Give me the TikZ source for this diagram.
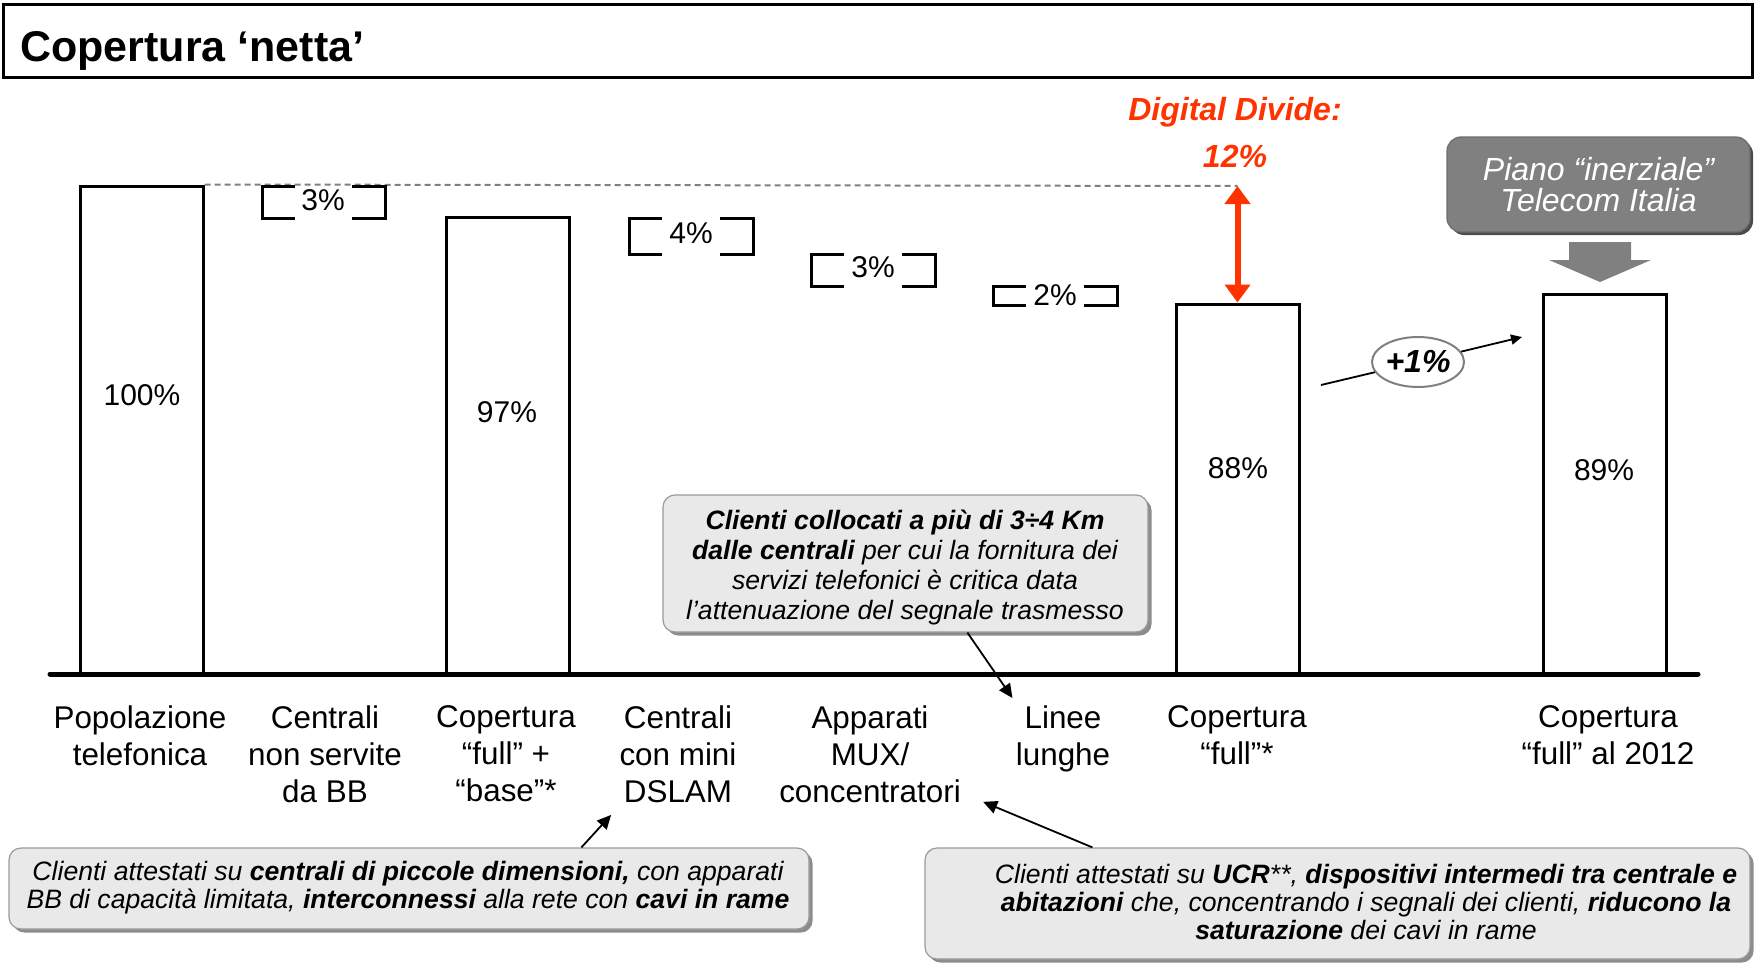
\documentclass[tikz,border=0pt]{standalone}
\usepackage{fontspec}
\setmainfont{Liberation Sans}
\usetikzlibrary{arrows.meta,calc,shapes.geometric,shadows}
\definecolor{ddred}{HTML}{FF3300}
\definecolor{callfill}{HTML}{E9E9E9}
\definecolor{callline}{HTML}{9A9A9A}
\definecolor{pianofill}{HTML}{808080}
\definecolor{dashgray}{HTML}{808080}
\newcommand\stepbrk[4]{%
  \draw[brk] (#1+33,#3) -- (#1,#3) -- (#1,#4) -- (#1+33,#4);
  \draw[brk] (#2-33,#3) -- (#2,#3) -- (#2,#4) -- (#2-33,#4);}
\begin{document}
\begin{tikzpicture}[x=0.5pt,y=-0.5pt,
  bar/.style={draw, line width=1.5pt, fill=white, inner sep=0pt},
  val/.style={font=\fontsize{15}{18}\selectfont, inner sep=0pt},
  cat/.style={font=\fontsize{15.7}{18.5}\selectfont, align=center, inner sep=0pt, anchor=north},
  brk/.style={line width=1.5pt},
  callout/.style={draw=callline, line width=0.6pt, fill=callfill, rounded corners=6pt,
    drop shadow={shadow xshift=1.8pt, shadow yshift=-1.8pt, fill=black!45, opacity=1}},
  calltext/.style={font=\fontsize{13.3}{14}\selectfont\itshape, align=center, inner sep=0pt},
  conn/.style={-{Triangle[length=7pt,width=6.5pt]}, line width=0.9pt},
  ddtext/.style={font=\fontsize{16}{19}\selectfont\bfseries\itshape, text=ddred, inner sep=0pt},
]
\useasboundingbox (0,0) rectangle (1755,963);
% title
\node[draw, line width=1.5pt, minimum width=874.5pt, minimum height=36.5pt, inner sep=0pt] (titlebox) at (877.5,41.5) {};
\node[anchor=base west, font=\fontsize{21.5}{25}\selectfont\bfseries, inner sep=0pt] (title) at (20,62) {Copertura ‘netta’};
% bars
\node[bar, minimum width=61.5pt, minimum height=244pt] (b1) at (141.5,430) {};
\node[bar, minimum width=61.5pt, minimum height=228.5pt] (b3) at (507.5,445.5) {};
\node[bar, minimum width=61.5pt, minimum height=185pt] (b7) at (1237.5,489) {};
\node[bar, minimum width=61.5pt, minimum height=190pt] (b8) at (1604.5,484) {};
\node[val] (v1) at (142,395) {100\%};
\node[val] (v3) at (507,412) {97\%};
\node[val] (v7) at (1238,468) {88\%};
\node[val] (v8) at (1604,470) {89\%};
% dashed reference and digital divide arrow
\coordinate (ddtop) at (1237.5,186);
\draw[draw=dashgray, line width=1pt, dash pattern=on 3pt off 2pt] (b1.north east) -- (ddtop);
\draw[draw=ddred, line width=3pt, {Triangle[length=9pt,width=12.5pt]}-{Triangle[length=9pt,width=12.5pt]}] (ddtop) -- (b7.north);
\node[ddtext] (dd1) at (1235,112) {Digital Divide:};
\node[ddtext] (dd2) at (1235,156) {12\%};
% steps
\stepbrk{262}{385}{186}{218}
\stepbrk{629}{753}{218}{254}
\stepbrk{811}{935}{254}{286}
\stepbrk{993}{1117}{286}{305}
\node[val] (s1) at (323,200) {3\%};
\node[val] (s2) at (691,233) {4\%};
\node[val] (s3) at (873,267) {3\%};
\node[val] (s4) at (1055,295) {2\%};
% piano inerziale
\node[fill=pianofill, draw=pianofill!85!black, line width=0.6pt, rounded corners=7pt,
  drop shadow={shadow xshift=1.5pt, shadow yshift=-1.5pt, fill=black!70, opacity=1},
  minimum width=151.5pt, minimum height=47.5pt, inner sep=0pt, text=white, align=center,
  font=\fontsize{16}{15.5}\selectfont\itshape] (piano) at (1598.5,184.5) {Piano “inerziale”\\Telecom Italia};
\fill[pianofill] (1569,242) -- (1631,242) -- (1631,260) -- (1651,260) -- (1600,282) -- (1549,260) -- (1569,260) -- cycle;
% +1%
\node[draw=gray, line width=1pt, ellipse, fill=white, minimum width=46pt, minimum height=25pt, inner sep=0pt,
  font=\fontsize{16}{19}\selectfont\bfseries\itshape] (plus) at (1418,362) {+1\%};
\coordinate (gstart) at (1321,385);
\coordinate (gend) at (1522,337);
\draw[line width=0.9pt] (gstart) -- (plus);
\draw[-{Triangle[length=5.5pt,width=5pt]}, line width=0.9pt] (plus) -- (gend);
% baseline
\coordinate (axL) at (50,674);
\coordinate (axR) at (1698,674);
\draw[line width=2.5pt, line cap=round] (axL) -- (axR);
% category labels
\node[cat] (l1) at (140,705) {Popolazione\\telefonica};
\node[cat] (l2) at (325,705) {Centrali\\non servite\\da BB};
\node[cat] (l3) at (506,705) {Copertura\\“full” +\\“base”*};
\node[cat] (l4) at (678,705) {Centrali\\con mini\\DSLAM};
\node[cat] (l5) at (870,705) {Apparati\\MUX/\\concentratori};
\node[cat] (l6) at (1063,705) {Linee\\lunghe};
\node[cat] (l7) at (1237,705) {Copertura\\“full”*};
\node[cat] (l8) at (1608,705) {Copertura\\“full” al 2012};
% callouts
\node[callout, minimum width=242.5pt, minimum height=68.5pt, inner sep=0pt] (c1) at (905.5,563.5) {};
\node[calltext, font=\fontsize{13.3}{15}\selectfont\itshape] (t1) at (905,567) {\textbf{Clienti collocati a più di 3÷4 Km}\\\textbf{dalle centrali} per cui la fornitura dei\\servizi telefonici è critica data\\l’attenuazione del segnale trasmesso};
\node[callout, minimum width=400pt, minimum height=40.5pt, inner sep=0pt] (c2) at (409,888.5) {};
\node[calltext] (t2) at (408,888) {Clienti attestati su \textbf{centrali di piccole dimensioni,} con apparati\\BB di capacità limitata, \textbf{interconnessi} alla rete con \textbf{cavi in rame}};
\node[callout, minimum width=412.5pt, minimum height=55.5pt, inner sep=0pt] (c3) at (1337.5,903.5) {};
\node[calltext] (t3) at (1366,902) {Clienti attestati su \textbf{UCR}**, \textbf{dispositivi intermedi tra centrale e}\\\textbf{abitazioni} che, concentrando i segnali dei clienti, \textbf{riducono la}\\\textbf{saturazione} dei cavi in rame};
% callout connectors
\draw[conn] ([xshift=152.5pt]c1.south west) -- ([shift={(-3,-7)}]l6.north west);
\draw[conn] ([xshift=286.5pt]c2.north west) -- ([shift={(-8,12)}]l4.south west);
\draw[conn] ([xshift=84pt]c3.north west) -- ([shift={(22,-1)}]l5.south east);
\end{tikzpicture}
\end{document}
